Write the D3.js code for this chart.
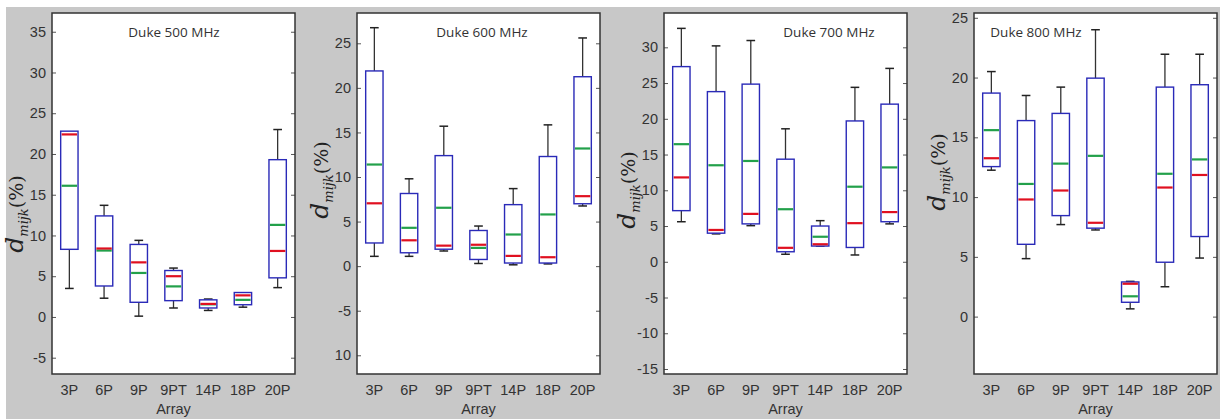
<!DOCTYPE html>
<html>
<head>
<meta charset="utf-8">
<script src="https://cdn.jsdelivr.net/npm/d3@7"></script>
<style>
  body { margin: 0; background: #fff; }
  svg { display: block; }
</style>
</head>
<body>
<script>
// categories shared by every panel
const categories = ['3P', '6P', '9P', '9PT', '14P', '18P', '20P'];
const titles = ['Duke 500 MHz', 'Duke 600 MHz', 'Duke 700 MHz', 'Duke 800 MHz'];

// box statistics per panel (whisker low, q1, median, mean, q3, whisker high)
const lo500  = [3.5, 2.3, 0.1, 1.1, 0.8, 1.2, 3.6];
const q1_500 = [8.3, 3.8, 1.8, 2.0, 1.1, 1.5, 4.8];
const med500 = [22.4, 8.4, 6.7, 5.0, 1.6, 2.65, 8.1];
const avg500 = [16.1, 8.15, 5.4, 3.75, 1.55, 2.1, 11.3];
const q3_500 = [22.8, 12.4, 8.9, 5.7, 2.1, 3.0, 19.3];
const hi500  = [22.8, 13.7, 9.4, 6.0, 2.2, 3.0, 23.0];

const lo600  = [1.1, 1.1, 1.7, 0.3, 0.15, 0.25, 6.75];
const q1_600 = [2.6, 1.5, 1.9, 0.75, 0.35, 0.35, 7.0];
const med600 = [7.05, 2.9, 2.3, 2.4, 1.15, 1.0, 7.85];
const avg600 = [11.4, 4.3, 6.55, 2.05, 3.55, 5.8, 13.2];
const q3_600 = [21.9, 8.15, 12.4, 4.0, 6.9, 12.3, 21.25];
const hi600  = [26.75, 9.8, 15.7, 4.5, 8.7, 15.85, 25.6];

const lo700  = [5.6, 3.9, 5.05, 1.05, 2.2, 0.95, 5.3];
const q1_700 = [7.15, 4.0, 5.3, 1.4, 2.2, 2.0, 5.6];
const med700 = [11.8, 4.45, 6.7, 1.95, 2.45, 5.4, 6.95];
const avg700 = [16.45, 13.5, 14.1, 7.35, 3.5, 10.5, 13.2];
const q3_700 = [27.3, 23.8, 24.85, 14.35, 5.0, 19.7, 22.05];
const hi700  = [32.65, 30.2, 30.95, 18.6, 5.75, 24.4, 27.05];

const lo800  = [12.25, 4.85, 7.7, 7.25, 0.65, 2.5, 4.9];
const q1_800 = [12.55, 6.05, 8.45, 7.4, 1.2, 4.55, 6.7];
const med800 = [13.25, 9.8, 10.55, 7.85, 2.75, 10.8, 11.85];
const avg800 = [15.6, 11.1, 12.8, 13.45, 1.7, 11.95, 13.15];
const q3_800 = [18.7, 16.4, 17.0, 19.95, 2.9, 19.2, 19.4];
const hi800  = [20.5, 18.5, 19.2, 24.0, 2.95, 21.95, 21.95];

// y ranges and tick labels per panel
const domains = [[-7, 37.3], [-12.1, 28.4], [-15.7, 34.8], [-4.8, 25.4]];
const ticks500 = [-5, 0, 5, 10, 15, 20, 25, 30, 35];
const ticks600 = [-10, -5, 0, 5, 10, 15, 20, 25];
const ticks700 = [-15, -10, -5, 0, 5, 10, 15, 20, 25, 30];
const ticks800 = [0, 5, 10, 15, 20, 25];
const tickText600 = ['10', '-5', '0', '5', '10', '15', '20', '25'];

const panels = [
  { lo: lo500, q1: q1_500, med: med500, avg: avg500, q3: q3_500, hi: hi500, ticks: ticks500 },
  { lo: lo600, q1: q1_600, med: med600, avg: avg600, q3: q3_600, hi: hi600, ticks: ticks600, labels: tickText600 },
  { lo: lo700, q1: q1_700, med: med700, avg: avg700, q3: q3_700, hi: hi700, ticks: ticks700 },
  { lo: lo800, q1: q1_800, med: med800, avg: avg800, q3: q3_800, hi: hi800, ticks: ticks800 }
];

// layout
const W = 1220, H = 419;
const lefts = [52, 357, 664, 974];
const plotW = 243, plotTop = 13, plotBottom = 374;
const titleX = [174, 482, 829, 1036];
const ylabY = [214, 180, 190, 172];

const svg = d3.select('body').append('svg')
  .attr('width', W)
  .attr('height', H);

svg.append('rect').attr('width', W).attr('height', H).attr('fill', '#fff');
svg.append('rect').attr('x', 6).attr('y', 7).attr('width', W - 6).attr('height', H - 7).attr('fill', '#c8c8c8');

panels.forEach((p, k) => {
  const x0 = lefts[k];
  const g = svg.append('g');

  const x = d3.scaleBand().domain(categories).range([x0, x0 + plotW]);
  const y = d3.scaleLinear().domain(domains[k]).range([plotBottom, plotTop]);

  g.append('rect')
    .attr('x', x0).attr('y', plotTop)
    .attr('width', plotW).attr('height', plotBottom - plotTop)
    .attr('fill', '#fff');

  const fmt = p.labels ? (d, i) => p.labels[i] : d => String(d);

  // left axis with inner ticks
  const axL = g.append('g')
    .attr('transform', `translate(${x0},0)`)
    .call(d3.axisLeft(y).tickValues(p.ticks).tickSize(-4).tickPadding(6).tickFormat(fmt));
  // right side ticks only
  const axR = g.append('g')
    .attr('transform', `translate(${x0 + plotW},0)`)
    .call(d3.axisRight(y).tickValues(p.ticks).tickSize(-4).tickFormat(''));
  // bottom category labels
  const axB = g.append('g')
    .attr('transform', `translate(0,${plotBottom})`)
    .call(d3.axisBottom(x).tickSize(0).tickPadding(11));

  [axL, axR, axB].forEach(a => {
    a.select('.domain').remove();
    a.selectAll('line').attr('stroke', '#555').attr('stroke-width', 1);
    a.selectAll('text')
      .attr('fill', '#333')
      .style('font-family', 'Liberation Sans, Arial, sans-serif')
      .style('font-size', '14.5px');
  });

  const bw = x.bandwidth() * 0.5;
  const cap = bw * 0.5;
  const idx = d3.range(categories.length);

  const boxes = g.selectAll('.box').data(idx).join('g');
  const cx = i => x(categories[i]) + x.bandwidth() / 2;

  // whiskers
  boxes.append('line')
    .attr('x1', cx).attr('x2', cx)
    .attr('y1', i => y(p.q3[i])).attr('y2', i => y(p.hi[i]))
    .attr('stroke', '#333').attr('stroke-width', 1.3);
  boxes.append('line')
    .attr('x1', cx).attr('x2', cx)
    .attr('y1', i => y(p.q1[i])).attr('y2', i => y(p.lo[i]))
    .attr('stroke', '#333').attr('stroke-width', 1.3);
  boxes.filter(i => p.hi[i] > p.q3[i]).append('line')
    .attr('x1', i => cx(i) - cap / 2).attr('x2', i => cx(i) + cap / 2)
    .attr('y1', i => y(p.hi[i])).attr('y2', i => y(p.hi[i]))
    .attr('stroke', '#222').attr('stroke-width', 1.5);
  boxes.append('line')
    .attr('x1', i => cx(i) - cap / 2).attr('x2', i => cx(i) + cap / 2)
    .attr('y1', i => y(p.lo[i])).attr('y2', i => y(p.lo[i]))
    .attr('stroke', '#222').attr('stroke-width', 1.5);

  // box
  boxes.append('rect')
    .attr('x', i => cx(i) - bw / 2)
    .attr('width', bw)
    .attr('y', i => y(p.q3[i]))
    .attr('height', i => y(p.q1[i]) - y(p.q3[i]))
    .attr('fill', '#fff')
    .attr('stroke', '#2a2ab8').attr('stroke-width', 1.4);

  // mean (green) and median (red)
  boxes.append('line')
    .attr('x1', i => cx(i) - bw / 2 + 1).attr('x2', i => cx(i) + bw / 2 - 1)
    .attr('y1', i => y(p.avg[i])).attr('y2', i => y(p.avg[i]))
    .attr('stroke', '#22a04a').attr('stroke-width', 2.2);
  boxes.append('line')
    .attr('x1', i => cx(i) - bw / 2 + 1).attr('x2', i => cx(i) + bw / 2 - 1)
    .attr('y1', i => y(p.med[i])).attr('y2', i => y(p.med[i]))
    .attr('stroke', '#e01020').attr('stroke-width', 2.2);

  // frame
  g.append('rect')
    .attr('x', x0).attr('y', plotTop)
    .attr('width', plotW).attr('height', plotBottom - plotTop)
    .attr('fill', 'none')
    .attr('stroke', '#333').attr('stroke-width', 1.5);

  // title
  g.append('text')
    .attr('x', titleX[k]).attr('y', 37)
    .attr('text-anchor', 'middle')
    .attr('fill', '#333')
    .style('font-family', 'Open Sans, sans-serif')
    .style('font-size', '13.5px')
    .text(titles[k]);

  // x axis title
  g.append('text')
    .attr('x', x0 + plotW / 2).attr('y', 414)
    .attr('text-anchor', 'middle')
    .attr('fill', '#333')
    .style('font-family', 'Liberation Sans, Arial, sans-serif')
    .style('font-size', '14.5px')
    .text('Array');

  // y axis title d_mijk(%)
  const yl = g.append('text')
    .attr('transform', `translate(${x0 - 29},${ylabY[k]}) rotate(-90)`)
    .attr('text-anchor', 'middle')
    .attr('fill', '#222')
    .style('font-family', 'DejaVu Serif, serif');
  yl.append('tspan').style('font-style', 'italic').style('font-size', '25px').text('d');
  yl.append('tspan').style('font-style', 'italic').style('font-size', '13px').attr('dy', 5).text('mijk');
  yl.append('tspan').style('font-size', '19px').attr('dy', -5).text('(%)');
});
</script>
</body>
</html>
